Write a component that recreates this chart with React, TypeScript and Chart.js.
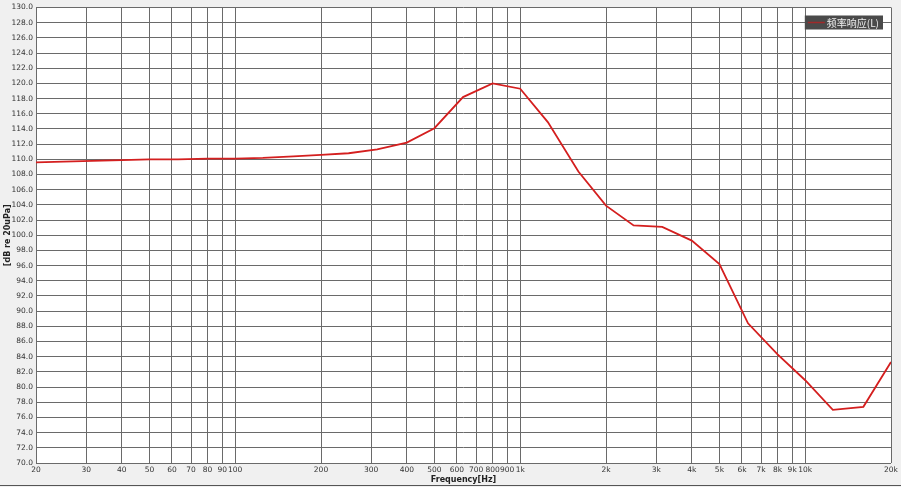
import React, { useEffect, useRef } from 'react';
import { Chart, registerables } from 'chart.js';

Chart.register(...registerables);

// 1/3-octave band centres and measured level (dB re 20uPa)
const frequencies = [
  20, 25, 31.5, 40, 50, 63, 80, 100, 125, 160, 200, 250, 315, 400, 500, 630,
  800, 1000, 1250, 1600, 2000, 2500, 3150, 4000, 5000, 6300, 8000, 10000,
  12500, 16000, 20000,
];
const levels = [
  109.6, 109.7, 109.8, 109.9, 110.0, 110.0, 110.1, 110.1, 110.2, 110.4, 110.6,
  110.8, 111.3, 112.2, 114.1, 118.2, 120.0, 119.3, 114.9, 108.4, 103.9, 101.3,
  101.1, 99.3, 96.2, 88.4, 84.3, 80.9, 77.0, 77.4, 83.3,
];

const seriesLabel = '频率响应(L)';

const xTickValues = [
  20, 30, 40, 50, 60, 70, 80, 90, 100, 200, 300, 400, 500, 600, 700, 800, 900,
  1000, 2000, 3000, 4000, 5000, 6000, 7000, 8000, 9000, 10000, 20000,
];
const xTickLabels = [
  '20', '30', '40', '50', '60', '70', '80', '90', '100', '200', '300', '400',
  '500', '600', '700', '800', '900', '1k', '2k', '3k', '4k', '5k', '6k', '7k',
  '8k', '9k', '10k', '20k',
];

const FONT = "'DejaVu Sans', 'Liberation Sans', sans-serif";

// white plot area on the grey panel
const plotBackground = {
  id: 'plotBackground',
  beforeDraw(chart: Chart) {
    const { ctx, chartArea } = chart;
    ctx.save();
    ctx.fillStyle = '#ffffff';
    ctx.fillRect(chartArea.left, chartArea.top, chartArea.right - chartArea.left, chartArea.bottom - chartArea.top);
    ctx.restore();
  },
};

// dark legend box in the top right corner
const boxLegend = {
  id: 'boxLegend',
  afterDraw(chart: Chart) {
    const { ctx, chartArea } = chart;
    const label = String(chart.data.datasets[0].label);
    ctx.save();
    ctx.font = `10px 'Noto Sans CJK SC', ${FONT}`;
    const tw = ctx.measureText(label).width;
    const w = tw + 26;
    const h = 14;
    const x = chartArea.right - 8 - w;
    const y = chartArea.top + 8;
    ctx.fillStyle = '#4a4a4a';
    ctx.fillRect(x, y, w, h);
    ctx.strokeStyle = '#a02a2a';
    ctx.lineWidth = 1.5;
    ctx.beginPath();
    ctx.moveTo(x + 3, y + h / 2);
    ctx.lineTo(x + 20, y + h / 2);
    ctx.stroke();
    ctx.fillStyle = '#eeeeee';
    ctx.textBaseline = 'middle';
    ctx.fillText(label, x + 22, y + h / 2 + 0.5);
    ctx.restore();
  },
};

const FrequencyResponse: React.FC = () => {
  const canvasRef = useRef<HTMLCanvasElement>(null);
  const chartRef = useRef<Chart | null>(null);

  useEffect(() => {
    if (!canvasRef.current) return;
    if (chartRef.current) chartRef.current.destroy();

    chartRef.current = new Chart(canvasRef.current, {
      type: 'scatter',
      data: {
        datasets: [
          {
            label: seriesLabel,
            data: frequencies.map((f, i) => ({ x: f, y: levels[i] })),
            showLine: true,
            borderColor: '#d41f1f',
            borderWidth: 1.8,
            pointRadius: 0,
            pointHoverRadius: 0,
            tension: 0,
          },
        ],
      },
      options: {
        animation: false,
        responsive: false,
        maintainAspectRatio: false,
        layout: { padding: { top: 5, right: 10, bottom: 0, left: 0 } },
        plugins: {
          legend: { display: false },
          tooltip: { enabled: false },
        },
        scales: {
          x: {
            type: 'logarithmic',
            min: 20,
            max: 20000,
            afterBuildTicks: (scale) => {
              scale.ticks = xTickValues.map((v) => ({ value: v }));
            },
            afterFit: (scale) => {
              scale.height = 24;
            },
            ticks: {
              autoSkip: false,
              maxRotation: 0,
              padding: 3,
              color: '#333333',
              font: { family: FONT, size: 7.5 },
              callback: (_v, i) => xTickLabels[i],
            },
            grid: { color: '#6a6a6a', lineWidth: 1, drawTicks: false },
            border: { display: false },
            title: {
              display: true,
              text: 'Frequency[Hz]',
              color: '#222222',
              font: { family: FONT, size: 8, weight: 'bold' },
              padding: { top: 0, bottom: 2 },
            },
          },
          y: {
            min: 70,
            max: 130,
            afterFit: (scale) => {
              scale.width = 36;
            },
            ticks: {
              stepSize: 2,
              autoSkip: false,
              padding: 3,
              color: '#333333',
              font: { family: FONT, size: 7.5 },
              callback: (v) => Number(v).toFixed(1),
            },
            grid: { color: '#6a6a6a', lineWidth: 1, drawTicks: false },
            border: { display: false },
            title: {
              display: true,
              text: '[dB re 20uPa]',
              color: '#222222',
              font: { family: FONT, size: 8, weight: 'bold' },
              padding: { top: 3, bottom: 0 },
            },
          },
        },
      },
      plugins: [plotBackground, boxLegend],
    });

    return () => {
      if (chartRef.current) {
        chartRef.current.destroy();
        chartRef.current = null;
      }
    };
  }, []);

  return (
    <div style={{ position: 'fixed', left: 0, top: 0, width: 901, height: 487, background: '#f0f0f0' }}>
      <canvas ref={canvasRef} width={901} height={487} style={{ width: 901, height: 487, display: 'block' }} />
      <div style={{ position: 'absolute', left: 0, top: 485, width: 901, height: 1, background: '#555555' }} />
    </div>
  );
};

export default function App() {
  return <FrequencyResponse />;
}
